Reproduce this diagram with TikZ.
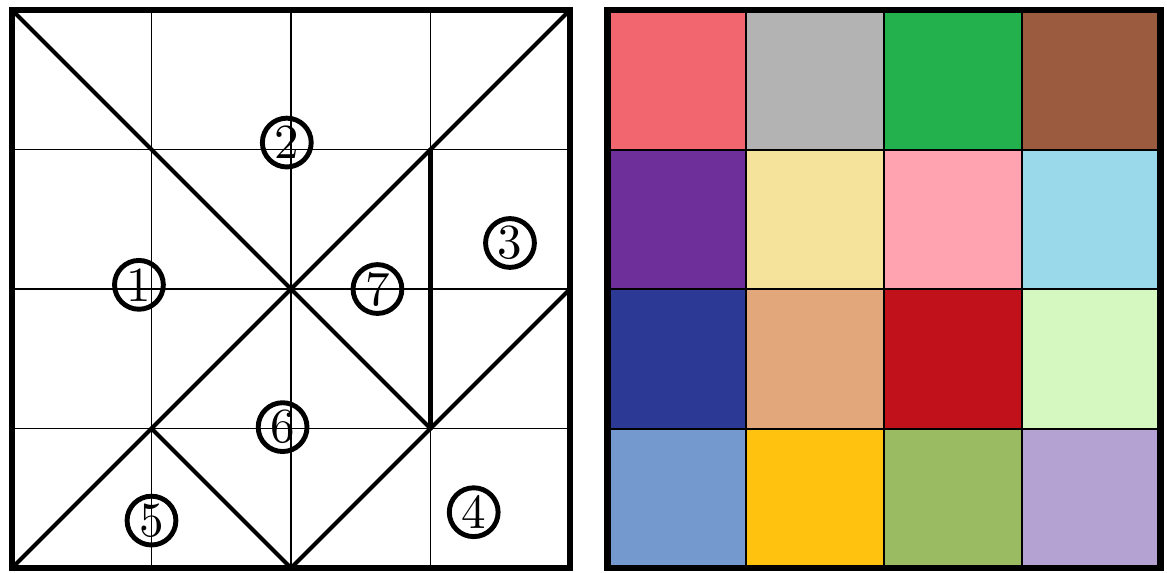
\documentclass[tikz,border=0pt]{standalone}
\usepackage{tikz}
\usetikzlibrary{positioning}
\definecolor{sqA}{HTML}{F26670}
\definecolor{sqB}{HTML}{B3B3B3}
\definecolor{sqC}{HTML}{22B14C}
\definecolor{sqD}{HTML}{9A5B3E}
\definecolor{sqE}{HTML}{6F2F9A}
\definecolor{sqF}{HTML}{F5E39C}
\definecolor{sqG}{HTML}{FFA3B1}
\definecolor{sqH}{HTML}{99D9EA}
\definecolor{sqI}{HTML}{2C3A95}
\definecolor{sqJ}{HTML}{E2A77A}
\definecolor{sqK}{HTML}{C1111B}
\definecolor{sqL}{HTML}{D5F8C0}
\definecolor{sqM}{HTML}{7399CF}
\definecolor{sqN}{HTML}{FFC20E}
\definecolor{sqO}{HTML}{9BBB62}
\definecolor{sqP}{HTML}{B4A2D3}
\tikzset{
  thin grid/.style={line width=0.3pt, black},
  cut/.style={line width=0.85pt, black, line cap=round},
  frame/.style={line width=1.4pt, black},
  piece/.style={circle, draw, line width=1pt, inner sep=0pt, minimum size=0.35cm,
    font=\fontsize{10}{11}\selectfont}
}
\begin{document}
\begin{tikzpicture}
  \useasboundingbox (-0.086,-0.029) rectangle (8.28,4.072);
  % tangram square
  \fill[white] (0,0) rectangle (4,4);
  \foreach \k in {1,2,3}{
    \draw[thin grid] (\k,0) -- (\k,4);
    \draw[thin grid] (0,\k) -- (4,\k);
  }
  \draw[cut] (0,4) -- (3,1);
  \draw[cut] (4,4) -- (0,0);
  \draw[cut] (1,1) -- (2,0) -- (4,2);
  \draw[cut] (3,3) -- (3,1);
  \draw[frame] (0,0) rectangle (4,4);
  \node[piece] (n2) at (1.97,3.05) {2};
  \node[piece] (n1) at (0.91,2.03) {1};
  \node[piece] (n3) at (3.57,2.33) {3};
  \node[piece] (n7) at (2.62,2.00) {7};
  \node[piece] (n6) at (1.94,1.01) {6};
  \node[piece] (n5) at (1.00,0.34) {5};
  \node[piece] (n4) at (3.31,0.40) {4};
  % colour grid
  \begin{scope}[xshift=4.272cm]
    \foreach \i/\j/\c in {0/3/sqA,1/3/sqB,2/3/sqC,3/3/sqD,
                          0/2/sqE,1/2/sqF,2/2/sqG,3/2/sqH,
                          0/1/sqI,1/1/sqJ,2/1/sqK,3/1/sqL,
                          0/0/sqM,1/0/sqN,2/0/sqO,3/0/sqP}{
      \fill[\c] (\i*0.99,\j) rectangle ++(0.99,1);
    }
    \foreach \k in {1,2,3}{
      \draw[line width=0.4pt] (\k*0.99,0) -- (\k*0.99,4);
      \draw[line width=0.4pt] (0,\k) -- (3.96,\k);
    }
    \draw[frame] (0,0) rectangle (3.96,4);
  \end{scope}
\end{tikzpicture}
\end{document}
